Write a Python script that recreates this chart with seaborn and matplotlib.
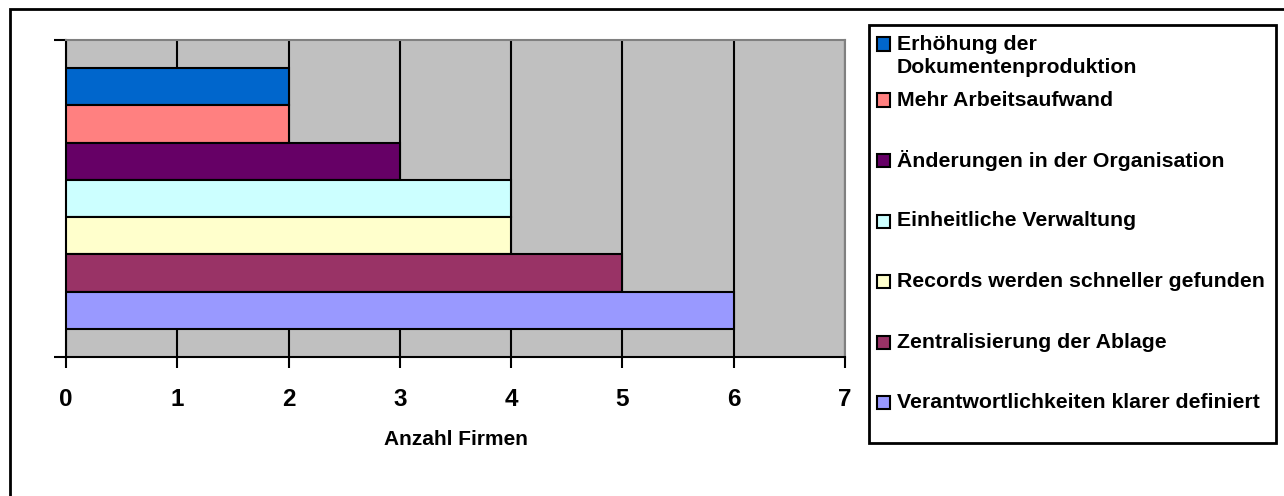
import matplotlib
matplotlib.use("Agg")
import matplotlib.pyplot as plt
import seaborn as sns
import pandas as pd
from matplotlib.patches import Rectangle

# data
kategorien = ["Erhöhung der\nDokumentenproduktion", "Mehr Arbeitsaufwand",
              "Änderungen in der Organisation", "Einheitliche Verwaltung",
              "Records werden schneller gefunden", "Zentralisierung der Ablage",
              "Verantwortlichkeiten klarer definiert"]
anzahl = [2, 2, 3, 4, 4, 5, 6]
farben = ["#0066CC", "#FF8080", "#660066", "#CCFFFF", "#FFFFCC", "#993366", "#9999FF"]
x_ticks = [0, 1, 2, 3, 4, 5, 6, 7]

df = pd.DataFrame({"kategorie": kategorien, "anzahl": anzahl})

sns.set_style("white")
plt.rcParams["font.family"] = ["Liberation Sans", "DejaVu Sans"]
plt.rcParams["font.weight"] = "bold"
plt.rcParams["text.color"] = "black"
plt.rcParams["xtick.color"] = "black"
plt.rcParams["axes.labelcolor"] = "black"

W, H = 1284, 496
fig = plt.figure(figsize=(W / 100, H / 100), dpi=100)
ax = fig.add_axes([66 / W, 1 - 357 / H, (845 - 66) / W, (357 - 40) / H])

sns.barplot(data=df, y="kategorie", x="anzahl", hue="kategorie", palette=farben,
            saturation=1, width=1, edgecolor="black", linewidth=1.5,
            legend=False, ax=ax, zorder=3)

ax.set_facecolor("#C0C0C0")
ax.set_xlim(0, 7)
ax.set_ylim(7.25, -1.25)
ax.set_xticks(x_ticks)
ax.set_xticklabels([str(t) for t in x_ticks], fontsize=17.5, fontweight="bold")
ax.set_yticks([-1.25, 7.25])
ax.set_yticklabels([])
ax.set_ylabel("")
ax.set_xlabel("Anzahl Firmen", fontsize=15, fontweight="bold", labelpad=14)
ax.tick_params(axis="x", length=8, width=1.5, color="black", direction="out",
               bottom=True, pad=14)
ax.tick_params(axis="y", length=9, width=1.5, color="black", direction="out",
               left=True, pad=2)
ax.grid(axis="x", color="black", linewidth=1.5, zorder=1)
ax.grid(axis="y", visible=False)
ax.set_axisbelow(True)
for s in ["left", "bottom"]:
    ax.spines[s].set_color("black")
    ax.spines[s].set_linewidth(1.5)
for s in ["top", "right"]:
    ax.spines[s].set_color("#808080")
    ax.spines[s].set_linewidth(1.5)


def fx(px):
    return px / W


def fy(py):
    return 1 - py / H


# outer chart border (only left and top are inside the picture)
fig.add_artist(Rectangle((fx(10), fy(520)), fx(1300) - fx(10), fy(9) - fy(520),
                         transform=fig.transFigure, fill=False, edgecolor="black", lw=2))

# legend box drawn by hand to follow the Excel layout
fig.add_artist(Rectangle((fx(869), fy(443)), fx(1276) - fx(869), fy(25) - fy(443),
                         transform=fig.transFigure, fill=False, edgecolor="black", lw=2))
zeilen_y = [44] + [100 + 60.5 * i for i in range(6)]
for lab, col, yy in zip(kategorien, farben, zeilen_y):
    fig.add_artist(Rectangle((fx(877), fy(yy + 6.5)), 13 / W, 13 / H,
                             transform=fig.transFigure, facecolor=col,
                             edgecolor="black", lw=1.5))
    if "\n" in lab:
        fig.text(fx(897), fy(yy + 12), lab, fontsize=15.3, fontweight="bold",
                 va="center", ha="left", linespacing=1.3)
    else:
        fig.text(fx(897), fy(yy), lab, fontsize=15.3, fontweight="bold",
                 va="center", ha="left")

fig.savefig("out.png", dpi=100)
